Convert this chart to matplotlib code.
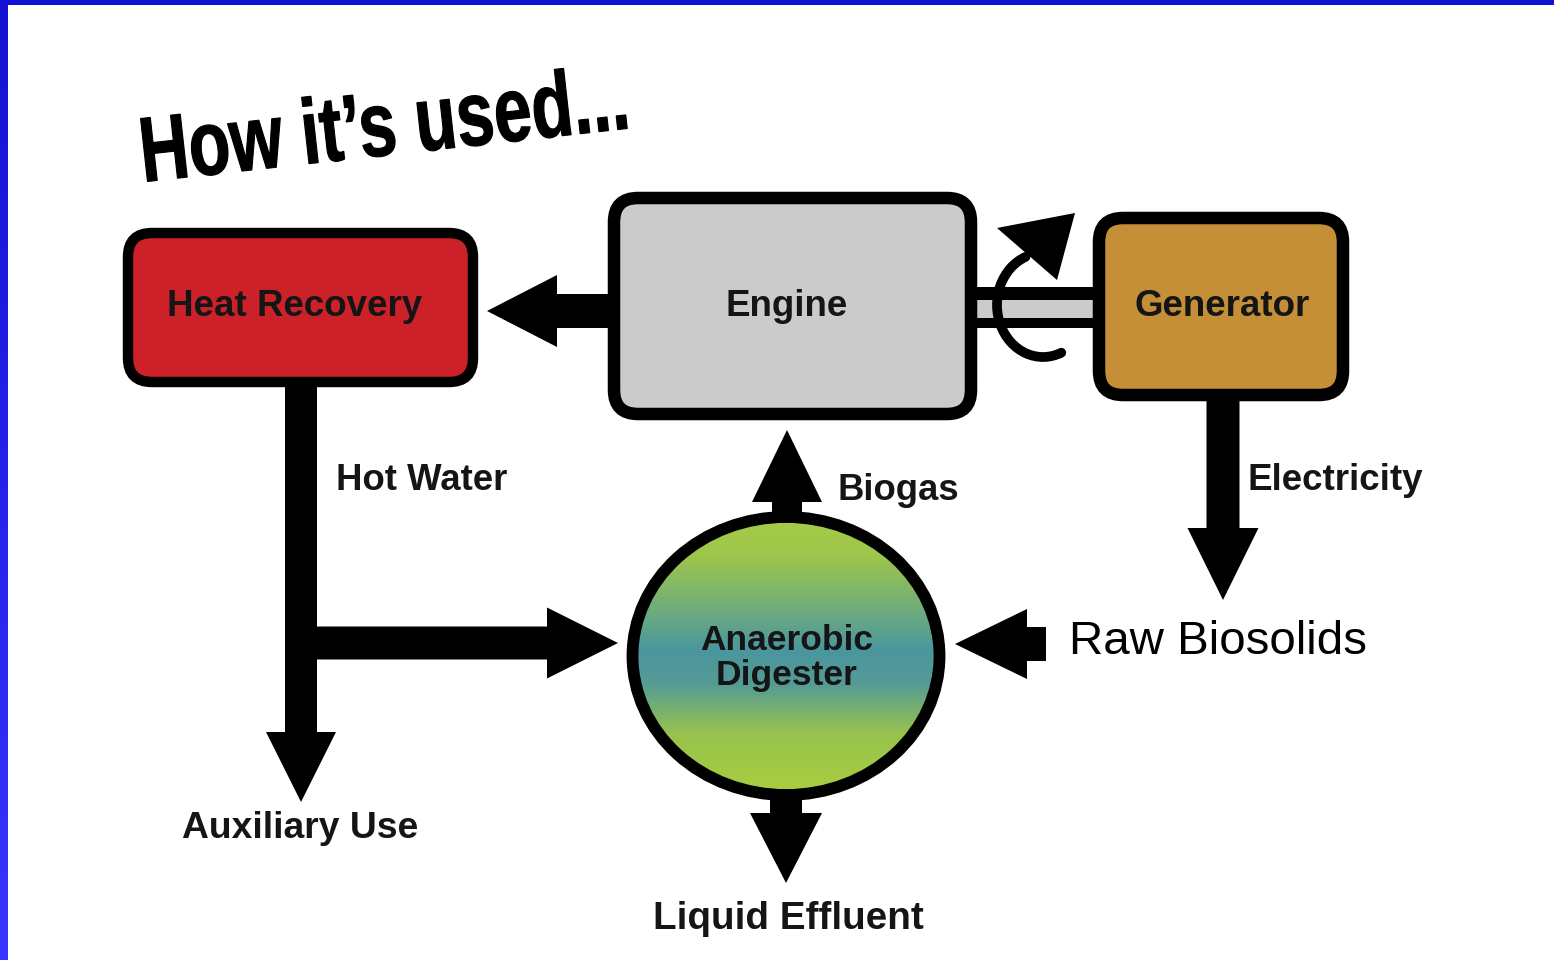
import numpy as np
import matplotlib.pyplot as plt
from matplotlib.patches import FancyBboxPatch, Ellipse, Arc, Polygon, FancyArrow, Rectangle, PathPatch
from matplotlib.colors import LinearSegmentedColormap
from matplotlib.textpath import TextPath
from matplotlib.font_manager import FontProperties
from matplotlib.transforms import Affine2D

# labels used in the diagram
title_text = "How it\u2019s used..."
box_labels = ["Heat Recovery", "Engine", "Generator"]
box_colors = ["#CD2129", "#CBCBCB", "#C48F36"]
digester_label = "Anaerobic\nDigester"
flow_labels = ["Hot Water", "Biogas", "Electricity", "Auxiliary Use", "Liquid Effluent"]
input_label = "Raw Biosolids"

# geometry (pixel coordinates, y pointing down)
box_rects = [(128, 233, 345, 149), (614, 198, 357, 216), (1099, 218, 244, 177)]
box_text_xy = [(295, 306), (787, 306), (1222, 306)]
box_lw = [7.5, 9.0, 9.0]
digester_center = (786, 656)
digester_size = (307, 278)

fig = plt.figure(figsize=(15.54, 9.6), dpi=100)
ax = fig.add_axes([0, 0, 1, 1])
ax.set_xlim(0, 1554)
ax.set_ylim(960, 0)
ax.axis('off')

# blue slide frame (left + top)
side = np.linspace(0, 1, 100).reshape(-1, 1)
frame_cmap = LinearSegmentedColormap.from_list('frame', ['#1212D2', '#3535FF'])
ax.imshow(side, cmap=frame_cmap, extent=(0, 8, 960, 0), aspect='auto', zorder=5)
ax.add_patch(Rectangle((0, 0), 1554, 5, color='#1111D3', lw=0, zorder=5))

# title: condensed bold, slightly tilted (squeeze a text path)
tp = TextPath((0, 0), title_text, size=95,
              prop=FontProperties(family='Liberation Sans', weight='bold'))
title_tf = Affine2D().scale(0.715, -0.97).rotate_deg(-6.3).translate(143, 182)
ax.add_patch(PathPatch(title_tf.transform_path(tp), fc='black', ec='black', lw=0.8, zorder=3))

# shaft between engine and generator
ax.add_patch(Rectangle((965, 287), 140, 41, color='black', lw=0, zorder=1))
ax.add_patch(Rectangle((965, 300), 140, 18, color='#CBCBCB', lw=0, zorder=1))

# the three boxes
for (x, y, w, h), (tx, ty), col, lw, lab in zip(box_rects, box_text_xy, box_colors, box_lw, box_labels):
    ax.add_patch(FancyBboxPatch((x, y), w, h, boxstyle='round,pad=0,rounding_size=24',
                                fc=col, ec='black', lw=lw, zorder=2))
    ax.text(tx, ty, lab, family='Liberation Sans', weight='bold',
            fontsize=26.5, ha='center', va='center', color='#151515', zorder=3)

# rotation symbol on the shaft
ax.add_patch(Arc((1043, 305), 92, 104, theta1=69, theta2=250, color='black', lw=7,
                 capstyle='round', zorder=3))
ax.add_patch(Polygon([(997, 228), (1075, 213), (1057, 280)], closed=True, color='black', lw=0, zorder=3))

# arrows: (x, y, dx, dy, shaft width, head width, head length)
arrows = [
    (610, 311, -123, 0, 34, 72, 70),     # engine -> heat recovery
    (301, 380, 0, 422, 32, 70, 70),      # hot water -> auxiliary use
    (301, 643, 317, 0, 33, 71, 71),      # hot water -> digester
    (787, 520, 0, -90, 30, 70, 72),      # biogas
    (786, 790, 0, 93, 32, 72, 70),       # liquid effluent
    (1223, 395, 0, 205, 33, 71, 72),     # electricity
    (1046, 644, -91, 0, 34, 70, 72),     # raw biosolids
]
for x, y, dx, dy, w, hw, hl in arrows:
    ax.add_patch(FancyArrow(x, y, dx, dy, width=w, head_width=hw, head_length=hl,
                            length_includes_head=True, color='black', lw=0, zorder=1))

# digester with vertical gradient
cx, cy = digester_center
dw, dh = digester_size
dig = Ellipse((cx, cy), dw, dh, fc='none', ec='black', lw=8.5, zorder=4)
grad_cmap = LinearSegmentedColormap.from_list(
    'dig', [(0, '#A6CB47'), (0.14, '#9DC64C'), (0.34, '#6DAB7E'), (0.48, '#4A969E'),
            (0.6, '#559B95'), (0.78, '#97C34D'), (1, '#ABCD3F')])
grad = np.linspace(0, 1, 256).reshape(-1, 1)
im = ax.imshow(grad, cmap=grad_cmap, extent=(cx - dw / 2, cx + dw / 2, cy + dh / 2, cy - dh / 2),
               aspect='auto', zorder=3)
clip = Ellipse((cx, cy), dw, dh, transform=ax.transData)
im.set_clip_path(clip)
ax.add_patch(dig)
ax.text(cx + 1, cy + 2, digester_label, family='Liberation Sans', weight='bold', fontsize=25.5,
        ha='center', va='center', linespacing=1.08, color='#151515', zorder=5)

# flow labels
label_pos = [(336, 481, 'left', 26.3), (838, 491, 'left', 26.3), (1248, 481, 'left', 26.5),
             (300, 829, 'center', 26.8), (788, 919, 'center', 27.8)]
for lab, (x, y, ha, fs) in zip(flow_labels, label_pos):
    ax.text(x, y, lab, family='Liberation Sans', weight='bold', fontsize=fs,
            ha=ha, va='center', color='#151515')

ax.text(1069, 642, input_label, family='Liberation Sans', fontsize=34.2,
        ha='left', va='center', color='black')

fig.savefig('out.png', dpi=100)
